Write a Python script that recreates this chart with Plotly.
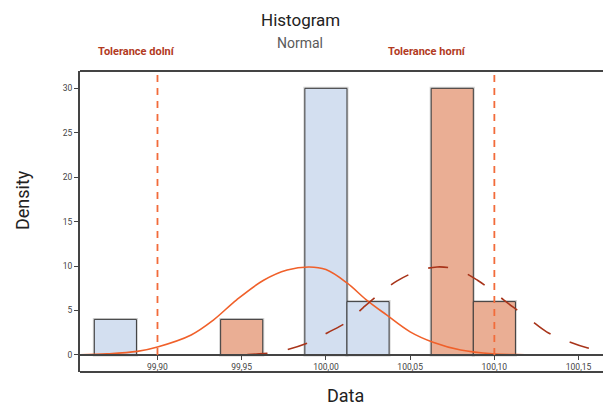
import plotly.graph_objects as go

# ---- data ----
blue_bin_centers = [99.875, 100.000, 100.025]
blue_density = [4, 30, 6]
orange_bin_centers = [99.950, 100.075, 100.100]
orange_density = [4, 30, 6]
bin_width = 0.025

normal_x = [99.854, 99.870, 99.888, 99.900, 99.920, 99.933, 99.947, 99.963, 99.977,
            99.990, 100.000, 100.0125, 100.024, 100.036, 100.050, 100.064, 100.080,
            100.099, 100.118, 100.137]
normal_y = [0.02, 0.12, 0.40, 0.90, 2.25, 3.9, 6.2, 8.4, 9.55,
            9.9, 9.6, 8.1, 6.2, 4.5, 2.6, 1.4, 0.55,
            0.12, 0.02, 0.0]

shifted_x = [99.929, 99.945, 99.963, 99.975, 99.990, 100.001, 100.0125, 100.022, 100.032,
             100.042, 100.054, 100.066, 100.078, 100.090, 100.100, 100.111, 100.121,
             100.131, 100.140, 100.155, 100.170, 100.190, 100.212]
shifted_y = [0.0, 0.02, 0.15, 0.5, 1.4, 2.5, 3.7, 5.3, 6.9,
             8.3, 9.4, 9.9, 9.6, 8.4, 7.0, 5.4, 4.0,
             2.6, 1.8, 0.8, 0.3, 0.07, 0.0]

tolerance_low = 99.90
tolerance_high = 100.10
x_ticks = [99.90, 99.95, 100.00, 100.05, 100.10, 100.15]
y_ticks = [0, 5, 10, 15, 20, 25, 30]

X_RANGE = [99.854, 100.1645]
Y_RANGE = [-1.92, 31.95]

FONT = "Roboto, sans-serif"
AXIS_COL = "#444444"

fig = go.Figure()
# soft grey halo behind the bars
for xs, ys in ((blue_bin_centers, blue_density), (orange_bin_centers, orange_density)):
    fig.add_trace(go.Bar(x=xs, y=ys, width=bin_width,
                         marker=dict(color="rgba(0,0,0,0)",
                                     line=dict(color="rgba(0,0,0,0.18)", width=3)),
                         showlegend=False, hoverinfo="skip"))
fig.add_trace(go.Bar(x=blue_bin_centers, y=blue_density, width=bin_width,
                     marker=dict(color="#d3dff0", line=dict(color="#3a3a3a", width=1)),
                     showlegend=False))
fig.add_trace(go.Bar(x=orange_bin_centers, y=orange_density, width=bin_width,
                     marker=dict(color="#eaae94", line=dict(color="#3a3a3a", width=1)),
                     showlegend=False))
fig.add_trace(go.Scatter(x=normal_x, y=normal_y, mode="lines",
                         line=dict(color="#f0602a", width=1.6, shape="spline", smoothing=1),
                         showlegend=False))
fig.add_trace(go.Scatter(x=shifted_x, y=shifted_y, mode="lines",
                         line=dict(color="#a8341a", width=1.6, shape="spline", smoothing=1,
                                   dash="20px,21px"),
                         showlegend=False))

for tol in (tolerance_low, tolerance_high):
    fig.add_shape(type="line", xref="x", yref="y", x0=tol, x1=tol, y0=0, y1=Y_RANGE[1],
                  line=dict(color="#f26b3a", width=1.8, dash="7px,6px"))

# frame lines (top and bottom)
for yy in (0, 1):
    fig.add_shape(type="line", xref="paper", yref="paper", x0=0, x1=1, y0=yy, y1=yy,
                  line=dict(color=AXIS_COL, width=2))

zero_pos = -Y_RANGE[0] / (Y_RANGE[1] - Y_RANGE[0])

fig.update_layout(
    width=603, height=405,
    margin=dict(l=80, r=0, t=71, b=33),
    plot_bgcolor="white", paper_bgcolor="white",
    separators=", ",
    barmode="overlay",
    font=dict(family=FONT, color="#333333"),
    xaxis=dict(range=X_RANGE, tickvals=x_ticks, tickformat=".2f", showgrid=False,
               zeroline=False, showline=True, linecolor=AXIS_COL, linewidth=1.5,
               ticks="outside", ticklen=4, tickcolor=AXIS_COL, tickwidth=1,
               anchor="free", position=zero_pos,
               tickfont=dict(size=8.5, color="#444444", family=FONT)),
    yaxis=dict(range=Y_RANGE, tickvals=y_ticks, showgrid=False, zeroline=False,
               showline=True, linecolor=AXIS_COL, linewidth=2,
               ticks="outside", ticklen=4, tickcolor=AXIS_COL, tickwidth=1,
               tickfont=dict(size=8.5, color="#444444", family=FONT)),
)

PLOT_W = 523  # plot-area width in pixels

def px_x(px):
    return (px - 80) / PLOT_W

def px_y(py):
    return (372 - py) / 301

annotations = [
    dict(text="Histogram", xref="paper", yref="paper", x=px_x(300), y=px_y(20),
         xanchor="center", yanchor="middle", showarrow=False,
         font=dict(size=17, color="#222222", family=FONT)),
    dict(text="Normal", xref="paper", yref="paper", x=px_x(300), y=px_y(43),
         xanchor="center", yanchor="middle", showarrow=False,
         font=dict(size=14, color="#5a5a5a", family=FONT)),
    dict(text="<b>Tolerance dolní</b>", xref="paper", yref="paper", x=px_x(136),
         y=px_y(52), xanchor="center", yanchor="middle", showarrow=False,
         font=dict(size=11, color="#b23a1e", family=FONT)),
    dict(text="<b>Tolerance horní</b>", xref="paper", yref="paper", x=px_x(427),
         y=px_y(52), xanchor="center", yanchor="middle", showarrow=False,
         font=dict(size=11, color="#b23a1e", family=FONT)),
    dict(text="Density", xref="paper", yref="paper", x=px_x(22), y=px_y(200),
         xanchor="center", yanchor="middle", showarrow=False, textangle=-90,
         font=dict(size=18, color="#222222", family=FONT)),
    dict(text="Data", xref="paper", yref="paper", x=px_x(345), y=px_y(395),
         xanchor="center", yanchor="middle", showarrow=False,
         font=dict(size=18, color="#222222", family=FONT)),
]
fig.update_layout(annotations=annotations)

# remove the browser's default 8px page margin so the figure sits at the top-left corner
fig.write_html("out.html", config={"displayModeBar": False},
               post_script="document.body.style.margin='0';")
